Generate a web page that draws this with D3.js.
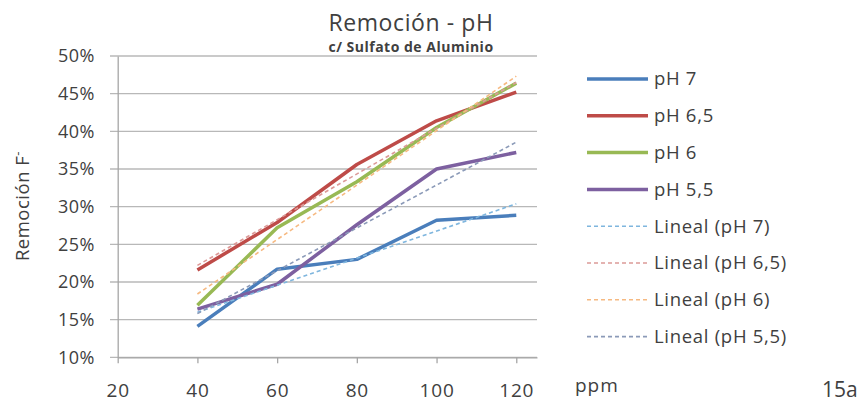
<!DOCTYPE html>
<html>
<head>
<meta charset="utf-8">
<script src="https://cdn.jsdelivr.net/npm/d3@7"></script>
<style>
  body { margin: 0; background: #fff; }
  text { font-family: "Open Sans", sans-serif; fill: #404040; }
</style>
</head>
<body>
<div id="chart"></div>
<script>
// data
const dosis = [40, 60, 80, 100, 120];
const ph7 = [14.1, 21.7, 23.0, 28.2, 28.85];
const ph65 = [21.6, 27.9, 35.6, 41.4, 45.2];
const ph6 = [16.9, 27.2, 33.3, 40.5, 46.4];
const ph55 = [16.4, 19.7, 27.6, 35.0, 37.2];
const xTicks = [20, 40, 60, 80, 100, 120];
const yTicks = [10, 15, 20, 25, 30, 35, 40, 45, 50];

const series = [
  { name: 'pH 7', values: ph7, color: '#4a7ebb', trend: '#7fb6de' },
  { name: 'pH 6,5', values: ph65, color: '#be4b48', trend: '#dc9a98' },
  { name: 'pH 6', values: ph6, color: '#98b954', trend: '#f6b981' },
  { name: 'pH 5,5', values: ph55, color: '#7d60a0', trend: '#8b9ab8' }
];

const width = 864, height = 402;
const svg = d3.select('#chart').append('svg')
  .attr('width', width)
  .attr('height', height);

const x = d3.scaleLinear().domain([20, 125.2]).range([117.7, 537]);
const y = d3.scaleLinear().domain([10, 50]).range([357.3, 56]);

// gridlines
svg.append('g')
  .selectAll('line')
  .data(yTicks)
  .enter().append('line')
  .attr('x1', 110).attr('x2', 537)
  .attr('y1', d => y(d)).attr('y2', d => y(d))
  .attr('stroke', '#b8b8b8')
  .attr('stroke-width', 1.3);

// y axis
const yAxis = svg.append('g')
  .attr('transform', `translate(${x(20)},0)`)
  .call(d3.axisLeft(y).tickValues(yTicks).tickSize(0).tickPadding(23).tickFormat(d => d + '%'));
yAxis.select('.domain').attr('stroke', '#a6a6a6').attr('stroke-width', 1.3);
yAxis.selectAll('text').style('font-size', '18px').style('letter-spacing', '0.4px').attr('fill', '#404040');

// x axis
const xAxis = svg.append('g')
  .attr('transform', `translate(0,${y(10)})`)
  .call(d3.axisBottom(x).tickValues(xTicks).tickSizeInner(6).tickSizeOuter(0).tickPadding(20));
xAxis.select('.domain').attr('stroke', '#a6a6a6').attr('stroke-width', 1.3);
xAxis.selectAll('.tick line').attr('stroke', '#a6a6a6').attr('stroke-width', 1.3);
xAxis.selectAll('text').style('font-size', '19px').style('letter-spacing', '0.8px').attr('fill', '#404040');

// linear trend (least squares, like Excel "Lineal")
function linearFit(xs, ys) {
  const mx = d3.mean(xs), my = d3.mean(ys);
  const b = d3.sum(xs, (v, i) => (v - mx) * (ys[i] - my)) / d3.sum(xs, v => (v - mx) * (v - mx));
  return v => my + b * (v - mx);
}

const line = d3.line()
  .x(d => x(d[0]))
  .y(d => y(d[1]));

// data lines
series.forEach(s => {
  svg.append('path')
    .datum(dosis.map((d, i) => [d, s.values[i]]))
    .attr('d', line)
    .attr('fill', 'none')
    .attr('stroke', s.color)
    .attr('stroke-width', 3.5)
    .attr('stroke-linejoin', 'round');
});

// trend lines on top
series.forEach(s => {
  const f = linearFit(dosis, s.values);
  const ends = d3.extent(dosis);
  svg.append('path')
    .datum(ends.map(d => [d, f(d)]))
    .attr('d', line)
    .attr('fill', 'none')
    .attr('stroke', s.trend)
    .attr('stroke-width', 1.6)
    .attr('stroke-dasharray', '4,3');
});

// titles
svg.append('text')
  .attr('x', 411).attr('y', 31)
  .attr('text-anchor', 'middle')
  .style('font-size', '23px')
  .style('letter-spacing', '0.6px')
  .attr('fill', '#262626')
  .text('Remoción - pH');
svg.append('text')
  .attr('x', 411).attr('y', 52)
  .attr('text-anchor', 'middle')
  .style('font-size', '14px')
  .style('font-weight', 'bold')
  .style('letter-spacing', '0.5px')
  .attr('fill', '#262626')
  .text('c/ Sulfato de Aluminio');

const yTitle = svg.append('text')
  .attr('transform', 'translate(29,206) rotate(-90)')
  .attr('text-anchor', 'middle')
  .style('font-size', '18.5px')
  .style('letter-spacing', '0.5px');
yTitle.append('tspan').text('Remoción F');
yTitle.append('tspan').attr('dy', -7).style('font-size', '13px').text('-');

svg.append('text')
  .attr('x', 575).attr('y', 392)
  .style('font-size', '19px')
  .style('letter-spacing', '1px')
  .text('ppm');
svg.append('text')
  .attr('x', 822).attr('y', 397)
  .style('font-size', '21px')
  .attr('fill', '#000')
  .text('15a');

// legend
const legendItems = series.map(s => ({ label: s.name, color: s.color, dashed: false }))
  .concat(series.map(s => ({ label: 'Lineal (' + s.name + ')', color: s.trend, dashed: true })));

const legend = svg.append('g')
  .selectAll('g')
  .data(legendItems)
  .enter().append('g')
  .attr('transform', (d, i) => `translate(0,${79 + i * 36.8})`);

legend.append('line')
  .attr('x1', 587).attr('x2', 648)
  .attr('stroke', d => d.color)
  .attr('stroke-width', d => d.dashed ? 1.6 : 3.5)
  .attr('stroke-dasharray', d => d.dashed ? '4,3' : null);

legend.append('text')
  .attr('x', 654).attr('dy', '0.35em')
  .style('font-size', '18.5px')
  .style('letter-spacing', '0.7px')
  .text(d => d.label);
</script>
</body>
</html>
